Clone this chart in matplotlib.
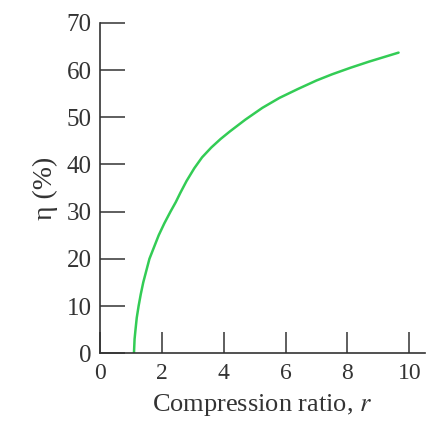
import matplotlib
matplotlib.use('Agg')
from matplotlib import pyplot as plt

# values
r = [1.1, 1.12, 1.15, 1.19, 1.25, 1.32, 1.4, 1.5, 1.6, 1.75, 1.9, 2.08, 2.28, 2.45,
     2.6, 2.8, 3.05, 3.3, 3.6, 3.9, 4.2, 4.7, 5.25, 5.8, 6.4, 7.0, 7.5, 8.1, 8.7, 9.2, 9.65]
eta = [0, 3, 5, 7.5, 10, 12.5, 15, 17.5, 20, 22.5, 25, 27.5, 30, 32, 34, 36.5, 39.2,
       41.5, 43.6, 45.4, 47.0, 49.5, 52.0, 54.1, 56.0, 57.8, 59.1, 60.5, 61.8, 62.8, 63.7]
xticks = [0, 2, 4, 6, 8, 10]
yticks = [0, 10, 20, 30, 40, 50, 60, 70]

plt.rcParams['font.family'] = ['Liberation Serif', 'DejaVu Serif']
plt.rcParams['mathtext.fontset'] = 'stix'

fig = plt.figure(figsize=(4.27, 4.24), dpi=100)
ax = fig.add_axes([0.234, 0.167, 0.761, 0.779])

ax.plot(r, eta, color='#33cc55', linewidth=1.8, solid_capstyle='round')

ax.set_xlim(0, 10.5)
ax.set_ylim(0, 70)
ax.set_xticks(xticks)
ax.set_yticks(yticks)

for s in ['top', 'right']:
    ax.spines[s].set_visible(False)
for s in ['left', 'bottom']:
    ax.spines[s].set_color('#333333')
    ax.spines[s].set_linewidth(1.2)

ax.tick_params(axis='y', direction='in', length=18, width=1.1, color='#333333',
               labelsize=18, labelcolor='#333333', pad=6)
ax.tick_params(axis='x', direction='in', length=15, width=1.1, color='#333333',
               labelsize=17, labelcolor='#333333', pad=7)

ax.set_xlabel('Compression ratio, $r$', fontsize=19, color='#333333', labelpad=6)
ax.set_ylabel('η (%)', fontsize=20, color='#333333', labelpad=6)

plt.savefig('out.png', dpi=100)
